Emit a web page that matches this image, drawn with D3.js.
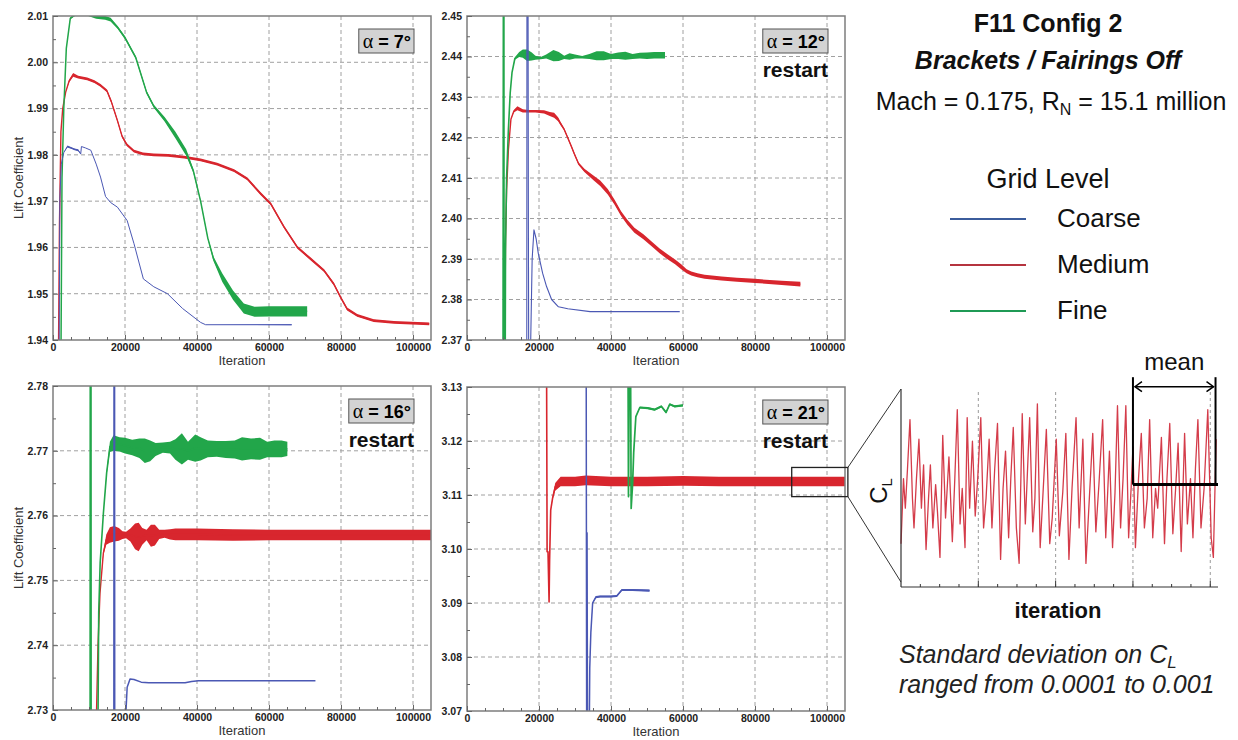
<!DOCTYPE html>
<html><head><meta charset="utf-8">
<script src="https://cdn.jsdelivr.net/npm/d3@7"></script>
<style>
body{margin:0;background:#fff}
svg{display:block;font-family:"Liberation Sans",Arial,sans-serif}
</style></head>
<body><svg id="c" width="1238" height="740"></svg>
<script>
// ---------------- DATA ----------------
const iterMajor = [0, 20000, 40000, 60000, 80000, 100000];
const ticksA7  = [1.94, 1.95, 1.96, 1.97, 1.98, 1.99, 2.00, 2.01];
const ticksA12 = [2.37, 2.38, 2.39, 2.40, 2.41, 2.42, 2.43, 2.44, 2.45];
const ticksA16 = [2.73, 2.74, 2.75, 2.76, 2.77, 2.78];
const ticksA21 = [3.07, 3.08, 3.09, 3.10, 3.11, 3.12, 3.13];
const alphaLabels = ["7°", "12°", "16°", "21°"];
const gridLevels = ["Coarse", "Medium", "Fine"];

// [iteration, lift coefficient, half-width of oscillation band]
const coarse7 = [[0,1.930,0],[1700,1.935,0],[1900,1.9705,0],[2300,1.978,0],[3000,1.9805,0],[4000,1.9818,0.0002],[5000,1.9815,0.0002],[6000,1.9812,0.0002],[7000,1.981,0.0002],[7700,1.9802,0.0001],[7900,1.9818,0],[9000,1.9815,0],[10500,1.981,0],[12000,1.978,0],[13200,1.9752,0],[14600,1.971,0],[16000,1.9697,0],[17900,1.9687,0],[20600,1.9658,0],[22500,1.9608,0],[25100,1.9532,0],[28000,1.9515,0],[31800,1.950,0],[36000,1.9468,0],[41000,1.9438,0],[42400,1.9433,0],[66300,1.9433,0.0001]];
const medium7 = [[0,1.930,0],[1500,1.935,0],[1800,1.965,0],[2200,1.985,0],[2700,1.990,0],[3500,1.9935,0],[4500,1.996,0.0003],[5600,1.9973,0.0004],[7000,1.9968,0.0003],[9500,1.9964,0.0003],[11500,1.9958,0.0003],[13200,1.995,0.0003],[15000,1.9938,0.0003],[16200,1.9915,0.0003],[17900,1.9874,0.0003],[19200,1.984,0.0003],[20500,1.9822,0.0003],[22500,1.9808,0.0003],[25000,1.9802,0.0003],[28000,1.980,0.0003],[32000,1.9799,0.0003],[36400,1.9795,0.0003],[41000,1.9789,0.0003],[45600,1.978,0.0003],[50300,1.9766,0.0003],[54000,1.9748,0.0003],[57700,1.9716,0.0003],[60500,1.9694,0.0003],[64200,1.9644,0.0003],[67900,1.960,0.0003],[71600,1.9575,0.0003],[75300,1.955,0.0003],[78000,1.9521,0.0003],[79900,1.9492,0.0003],[81700,1.9467,0.0003],[84500,1.9453,0.0003],[89100,1.9442,0.0003],[94700,1.9438,0.0003],[104500,1.9435,0.0003]];
const fine7 = [[0,1.930,0],[2200,1.935,0],[2500,1.975,0],[3000,1.990,0],[3700,2.003,0],[4800,2.0095,0.0002],[6500,2.0105,0.0003],[9000,2.0105,0.0003],[12000,2.0098,0.0004],[14500,2.0096,0.0004],[16000,2.0092,0.0004],[18000,2.0075,0.0003],[20000,2.0053,0.0003],[23000,2.001,0.0003],[26000,1.9935,0.0003],[28000,1.9905,0.0003],[31000,1.9877,0.0005],[34000,1.9843,0.0007],[37000,1.9805,0.0007],[39000,1.9765,0.0004],[41000,1.970,0.0002],[43000,1.962,0.0002],[44600,1.9575,0.0005],[47000,1.9535,0.0009],[50000,1.9497,0.0010],[53000,1.9468,0.0011],[56000,1.9461,0.0011],[60000,1.9462,0.0011],[65000,1.9462,0.0011],[70600,1.9462,0.0011]];

const coarse12 = [[16600,2.36,0],[16650,2.46,0],[16950,2.46,0],[17050,2.40,0],[17150,2.36,0],[17500,2.36,0],[17700,2.370,0],[18100,2.390,0],[18600,2.3972,0],[19200,2.395,0],[19800,2.3914,0],[21000,2.3865,0],[22100,2.3832,0],[23500,2.380,0],[25400,2.3782,0],[28000,2.3777,0],[34200,2.377,0],[59100,2.377,0]];
const medium12 = [[10300,2.36,0],[10500,2.37,0],[10700,2.395,0],[11000,2.407,0],[11500,2.417,0],[12200,2.4245,0],[13000,2.4265,0.0003],[14000,2.4272,0.0005],[15500,2.4266,0.0004],[17000,2.4265,0.0003],[19000,2.4265,0.0003],[21400,2.4263,0.0004],[23000,2.4258,0.0005],[24200,2.4255,0.0006],[25300,2.4245,0.0005],[26000,2.4234,0.0004],[27000,2.422,0.0003],[27900,2.4201,0.0003],[29000,2.4178,0.0003],[29800,2.416,0.0003],[31000,2.4135,0.0003],[32600,2.4119,0.0004],[35300,2.4099,0.0006],[37000,2.4087,0.0007],[39100,2.4066,0.0007],[41000,2.404,0.0006],[42800,2.4012,0.0006],[44600,2.399,0.0006],[46500,2.3971,0.0006],[49000,2.3955,0.0006],[51200,2.3938,0.0006],[53500,2.392,0.0006],[55800,2.3905,0.0006],[57800,2.3893,0.0006],[59500,2.3881,0.0006],[61000,2.387,0.0005],[62300,2.3864,0.0005],[64000,2.386,0.0005],[66000,2.3856,0.0005],[70700,2.3852,0.0005],[75000,2.3849,0.0005],[80000,2.3846,0.0005],[87400,2.3841,0.0005],[92600,2.3838,0.0006]];
const fine12 = [[10000,2.36,0],[10100,2.46,0],[10250,2.46,0],[10300,2.36,0],[10600,2.36,0],[10700,2.392,0],[11000,2.410,0],[11500,2.422,0],[12000,2.431,0],[12500,2.436,0],[13300,2.4395,0.0003],[14500,2.4405,0.0006],[15500,2.4407,0.0010],[16700,2.4403,0.0014],[18000,2.440,0.0010],[19000,2.4397,0.0005],[20500,2.4396,0.0003],[22000,2.440,0.0005],[24000,2.4402,0.0014],[25500,2.440,0.0011],[27000,2.4398,0.0004],[28500,2.440,0.0008],[30000,2.440,0.0005],[32000,2.4398,0.0003],[34000,2.440,0.0006],[36000,2.4402,0.0011],[38000,2.4402,0.0011],[40000,2.440,0.0006],[42000,2.4402,0.0008],[44000,2.4402,0.0010],[46000,2.440,0.0006],[48000,2.4402,0.0007],[50000,2.4402,0.0008],[52000,2.4403,0.0008],[55000,2.4403,0.0008]];

const coarse16 = [[16900,2.72,0],[16950,2.79,0],[17100,2.79,0],[17150,2.72,0],[19900,2.72,0],[20200,2.729,0],[20600,2.7335,0],[21400,2.7348,0],[22500,2.7347,0],[24500,2.7343,0],[26600,2.7342,0],[30000,2.7342,0],[36700,2.7342,0],[38500,2.7344,0],[40400,2.7345,0],[50000,2.7345,0],[60000,2.7345,0],[72900,2.7345,0]];
const medium16 = [[11800,2.72,0],[12100,2.73,0],[12500,2.740,0],[13050,2.748,0],[13980,2.7542,0.0003],[14800,2.7563,0.0008],[15800,2.757,0.0012],[17000,2.7572,0.0012],[18300,2.7571,0.0010],[19300,2.757,0.0006],[20300,2.757,0.0005],[21500,2.757,0.0010],[22800,2.7568,0.0020],[23800,2.7567,0.0022],[24800,2.7568,0.0013],[26000,2.757,0.0008],[27200,2.7569,0.0017],[28300,2.757,0.0016],[29500,2.7571,0.0007],[31000,2.7572,0.0006],[32500,2.7571,0.0008],[34000,2.7571,0.0009],[40000,2.7571,0.0009],[50000,2.757,0.0009],[60000,2.757,0.0008],[70000,2.757,0.0008],[80000,2.757,0.0008],[90000,2.757,0.0008],[100000,2.757,0.0008],[105500,2.757,0.0008]];
const fine16 = [[10300,2.72,0],[10350,2.79,0],[10550,2.79,0],[10600,2.72,0],[12400,2.72,0],[12700,2.745,0],[13100,2.7527,0],[14000,2.7604,0],[14900,2.7666,0.0003],[15800,2.7706,0.0008],[16800,2.7712,0.0012],[18500,2.771,0.0011],[20000,2.7708,0.0012],[22000,2.7705,0.0012],[24000,2.7704,0.0015],[25500,2.770,0.0019],[27000,2.770,0.0016],[28500,2.7702,0.0010],[30500,2.7705,0.0008],[32500,2.7705,0.0009],[34000,2.7702,0.0016],[35800,2.7703,0.0024],[37500,2.770,0.0014],[39500,2.7704,0.0021],[41000,2.7703,0.0018],[43000,2.7703,0.0013],[45500,2.7703,0.0012],[48000,2.7702,0.0013],[50500,2.7702,0.0014],[52500,2.7703,0.0018],[55000,2.7703,0.0016],[57500,2.7703,0.0017],[59500,2.7702,0.0012],[61500,2.7703,0.0013],[63500,2.7703,0.0013],[65100,2.7703,0.0011]];

const coarse21 = [[33100,3.14,0],[33250,3.06,0],[33350,3.103,0],[33500,3.06,0],[33900,3.06,0],[34100,3.078,0],[34400,3.0845,0.0002],[34900,3.090,0.0002],[35800,3.0911,0.0002],[37000,3.0912,0.0002],[40000,3.0912,0.0002],[41600,3.0913,0.0002],[43000,3.0924,0.0002],[46000,3.0924,0.0002],[50700,3.0923,0.0002]];
const medium21 = [[22000,3.14,0],[22100,3.135,0],[22250,3.0995,0],[22500,3.0995,0],[22800,3.0902,0],[22950,3.098,0],[23250,3.1072,0],[23800,3.1095,0.0003],[24500,3.1115,0.0007],[26000,3.1125,0.0009],[30000,3.1125,0.0009],[33000,3.1127,0.0009],[40000,3.1125,0.0009],[50000,3.1125,0.0009],[60000,3.1126,0.0009],[70000,3.1125,0.0009],[80000,3.1125,0.0009],[90000,3.1125,0.0009],[100000,3.1125,0.0009],[105500,3.1125,0.0009]];
const fine21 = [[44700,3.14,0],[44850,3.1097,0],[45000,3.125,0],[45200,3.14,0],[45400,3.14,0],[45600,3.1075,0],[46000,3.112,0],[46300,3.1178,0],[46900,3.1245,0.0001],[48000,3.1262,0.0002],[50200,3.1261,0.0002],[52100,3.1258,0.0002],[54000,3.1264,0.0002],[55300,3.1253,0.0002],[56300,3.1268,0.0002],[57700,3.1264,0.0002],[60000,3.1266,0.0002]];

// zoom window on the alpha = 21 medium curve: [iter0, iter1, cl0, cl1]
const zoomWindow = [90200, 105800, 3.1097, 3.1151];

// inset (relative iteration, relative C_L)
const insetIter = [0,0.8,1.4,2.1,2.9,3.7,4.2,5.0,5.8,6.6,7.3,8.1,8.9,9.5,10.3,11.2,11.8,12.6,13.5,14.4,15.5,16.6,17.4,18.2,19.1,19.8,20.7,21.4,22.2,23.1,24.0,24.8,25.8,26.7,27.5,28.5,29.4,30.3,31.2,32.2,33.0,33.8,34.8,35.5,36.3,37.3,38.2,39.2,40.2,41.6,42.6,43.3,44.1,45.0,46.0,47.0,48.1,48.9,50.2,51.2,52.3,53.3,54.3,55.3,56.6,57.6,58.8,59.8,60.9,62.0,63.0,64.0,65.2,66.2,67.4,68.4,69.2,70.0,71.0,71.8,72.7,73.6,74.4,75.0,75.8,76.8,77.7,78.7,79.6,80.4,81.4,82.3,83.0,84.2,85.2,86.0,86.9,87.9,88.8,89.6,90.6,91.7,92.6,93.6,94.4,95.2,96.0,97.0,98.0,99.2,100.3,101.0,101.9];
const insetCL = [0.22,0.55,0.40,0.60,0.85,0.45,0.30,0.55,0.75,0.40,0.62,0.19,0.45,0.62,0.30,0.52,0.38,0.15,0.77,0.35,0.66,0.23,0.55,0.90,0.32,0.50,0.20,0.86,0.40,0.74,0.36,0.55,0.86,0.30,0.45,0.75,0.30,0.60,0.83,0.14,0.50,0.69,0.25,0.55,0.81,0.30,0.12,0.88,0.32,0.86,0.28,0.45,0.93,0.20,0.50,0.80,0.22,0.35,0.75,0.26,0.48,0.78,0.14,0.50,0.86,0.30,0.75,0.12,0.45,0.78,0.28,0.52,0.85,0.25,0.69,0.20,0.48,0.92,0.30,0.55,0.92,0.25,0.50,0.71,0.20,0.55,0.78,0.30,0.45,0.85,0.25,0.50,0.40,0.76,0.22,0.55,0.83,0.27,0.50,0.73,0.18,0.78,0.32,0.55,0.25,0.60,0.85,0.30,0.50,0.90,0.25,0.15,0.75];
const insetTicks = [25, 50, 75, 100];
const meanWindow = [75, 101.7];
const meanLevel = 0.52;

// ---------------- DRAW ----------------
const svg = d3.select("#c");
const FONT = '"Liberation Sans", Arial, sans-serif';
const colors = {Coarse:"#4b58b4", Medium:"#d8262e", Fine:"#22a64a"};
const legendColors = {Coarse:"#3b5c9c", Medium:"#b5343f", Fine:"#1f9a55"};

const panels = [
  {key:"a7",  left:53,  right:431, top:16,  bottom:340, ticks:ticksA7,  alpha:alphaLabels[0], restart:false, ytitle:true,
   series:[{n:"Medium",d:medium7,w:1.4},{n:"Fine",d:fine7,w:1.5},{n:"Coarse",d:coarse7,w:1}]},
  {key:"a12", left:467, right:845, top:16,  bottom:340, ticks:ticksA12, alpha:alphaLabels[1], restart:true, ytitle:false,
   series:[{n:"Medium",d:medium12,w:1.4},{n:"Fine",d:fine12,w:1.6},{n:"Coarse",d:coarse12,w:1.1}]},
  {key:"a16", left:53,  right:431, top:386, bottom:710, ticks:ticksA16, alpha:alphaLabels[2], restart:true, ytitle:true,
   series:[{n:"Medium",d:medium16,w:1.4},{n:"Fine",d:fine16,w:1.6},{n:"Coarse",d:coarse16,w:1.5}]},
  {key:"a21", left:467, right:845, top:387, bottom:711, ticks:ticksA21, alpha:alphaLabels[3], restart:true, ytitle:false,
   series:[{n:"Medium",d:medium21,w:1.6},{n:"Fine",d:fine21,w:1.7},{n:"Coarse",d:coarse21,w:1.5}]}
];

const defs = svg.append("defs");
const scales = {};

panels.forEach(p => {
  const g = svg.append("g");
  const x = d3.scaleLinear([0, 105000], [p.left, p.right]);
  const y = d3.scaleLinear([p.ticks[0], p.ticks[p.ticks.length-1]], [p.bottom, p.top]);
  scales[p.key] = {x, y};
  defs.append("clipPath").attr("id", "clip-"+p.key).append("rect")
    .attr("x", p.left).attr("y", p.top).attr("width", p.right-p.left).attr("height", p.bottom-p.top);

  // grid
  g.append("g").selectAll("line").data(iterMajor.filter(d => d > 0)).join("line")
    .attr("x1", d => x(d)).attr("x2", d => x(d)).attr("y1", p.top).attr("y2", p.bottom)
    .attr("stroke", "#a0a0a0").attr("stroke-width", 1).attr("stroke-dasharray", "4,3");
  g.append("g").selectAll("line").data(p.ticks.slice(1, -1)).join("line")
    .attr("y1", d => y(d)).attr("y2", d => y(d)).attr("x1", p.left).attr("x2", p.right)
    .attr("stroke", "#a0a0a0").attr("stroke-width", 1).attr("stroke-dasharray", "4,3");

  // series
  const sg = g.append("g").attr("clip-path", `url(#clip-${p.key})`);
  p.series.forEach(s => {
    sg.append("path").datum(s.d)
      .attr("d", d3.area().x(d => x(d[0])).y0(d => y(d[1]-d[2])).y1(d => y(d[1]+d[2])))
      .attr("fill", colors[s.n]);
    sg.append("path").datum(s.d)
      .attr("d", d3.line().x(d => x(d[0])).y(d => y(d[1])))
      .attr("fill", "none").attr("stroke", colors[s.n]).attr("stroke-width", s.w)
      .attr("stroke-linejoin", "round");
  });

  // frame
  g.append("rect").attr("x", p.left).attr("y", p.top).attr("width", p.right-p.left).attr("height", p.bottom-p.top)
    .attr("fill", "none").attr("stroke", "#7d7d7d").attr("stroke-width", 1.5);

  // axes
  const xa = g.append("g").attr("transform", `translate(0,${p.bottom})`)
    .call(d3.axisBottom(x).tickValues(iterMajor).tickSize(-5).tickPadding(4).tickFormat(d3.format("d")));
  const xm = g.append("g").attr("transform", `translate(0,${p.bottom})`)
    .call(d3.axisBottom(x).tickValues(d3.range(5000, 105000, 5000).filter(v => v % 20000)).tickSize(-3).tickFormat(""));
  const ya = g.append("g").attr("transform", `translate(${p.left},0)`)
    .call(d3.axisLeft(y).tickValues(p.ticks).tickSize(-5).tickPadding(5).tickFormat(d3.format(".2f")));
  const mids = p.ticks.slice(0, -1).map((t, i) => (t + p.ticks[i+1]) / 2);
  const ym = g.append("g").attr("transform", `translate(${p.left},0)`)
    .call(d3.axisLeft(y).tickValues(mids).tickSize(-3).tickFormat(""));
  [xa, xm, ya, ym].forEach(a => {
    a.select(".domain").remove();
    a.attr("font-family", FONT);
    a.selectAll("line").attr("stroke", "#666");
    a.selectAll("text").attr("font-size", 10.5).attr("font-weight", "bold").attr("fill", "#222");
  });

  // axis titles
  g.append("text").attr("x", (p.left+p.right)/2).attr("y", p.bottom+25).attr("text-anchor", "middle")
    .attr("font-size", 13).attr("fill", "#333").text("Iteration");
  if (p.ytitle) {
    g.append("text").attr("transform", `translate(23,${(p.top+p.bottom)/2}) rotate(-90)`)
      .attr("text-anchor", "middle").attr("font-size", 13).attr("fill", "#333").text("Lift Coefficient");
  }

  // alpha box
  const bx = p.right - 17, by = p.top + 13;
  const boxG = g.append("g");
  const boxRect = boxG.append("rect");
  const lbl = boxG.append("text").attr("y", by + 19).attr("text-anchor", "end").attr("x", bx - 3);
  lbl.append("tspan").attr("font-family", '"Liberation Serif", serif').attr("font-size", 20).text("α");
  lbl.append("tspan").attr("font-size", 18).attr("font-weight", "bold").text(" = " + p.alpha);
  const bw = lbl.node().getComputedTextLength();
  boxRect.attr("x", bx - bw - 7).attr("y", by).attr("width", bw + 7).attr("height", 24)
    .attr("fill", "#d3d3d3").attr("stroke", "#555").attr("stroke-width", 1);
  if (p.restart) {
    g.append("text").attr("x", bx).attr("y", p.top + 61).attr("text-anchor", "end")
      .attr("font-size", 21).attr("font-weight", "bold").attr("fill", "#111").text("restart");
  }
});

// zoom window rectangle in alpha=21 panel
const s21 = scales.a21;
const zx0 = s21.x(zoomWindow[0]), zx1 = s21.x(zoomWindow[1]);
const zy0 = s21.y(zoomWindow[3]), zy1 = s21.y(zoomWindow[2]);
svg.append("rect").attr("x", zx0).attr("y", zy0).attr("width", zx1-zx0).attr("height", zy1-zy0)
  .attr("fill", "none").attr("stroke", "#222").attr("stroke-width", 1.3);

// inset
const ix = d3.scaleLinear([0, 102.5], [901, 1218]);
const iy = d3.scaleLinear([0, 1], [587, 390]);
const ins = svg.append("g");
ins.append("line").attr("x1", zx1).attr("y1", zy0).attr("x2", ix(0)).attr("y2", iy(1.005)).attr("stroke", "#333").attr("stroke-width", 1);
ins.append("line").attr("x1", zx1).attr("y1", zy1).attr("x2", ix(0)).attr("y2", iy(0.025)).attr("stroke", "#333").attr("stroke-width", 1);
ins.selectAll(".ig").data(insetTicks).join("line").attr("class", "ig")
  .attr("x1", d => ix(d)).attr("x2", d => ix(d)).attr("y1", iy(0)).attr("y2", iy(1))
  .attr("stroke", "#9a9a9a").attr("stroke-dasharray", "3,3");
ins.append("path").datum(insetIter)
  .attr("d", d3.line().x(d => ix(d)).y((d, i) => iy(insetCL[i])))
  .attr("fill", "none").attr("stroke", "#d43c4a").attr("stroke-width", 1.3).attr("stroke-linejoin", "round");
ins.append("line").attr("x1", ix(0)).attr("x2", ix(0)).attr("y1", iy(1.005)).attr("y2", iy(0)).attr("stroke", "#333").attr("stroke-width", 1.2);
ins.append("line").attr("x1", ix(0)).attr("x2", ix(102.5)).attr("y1", iy(0)).attr("y2", iy(0)).attr("stroke", "#333").attr("stroke-width", 1.2);
ins.selectAll(".it").data(d3.range(6.25, 102.5, 6.25)).join("line").attr("class", "it")
  .attr("x1", d => ix(d)).attr("x2", d => ix(d)).attr("y1", iy(0))
  .attr("y2", d => iy(0) - (d % 25 === 0 ? 6 : 3)).attr("stroke", "#333");

// mean bracket
const mx0 = ix(meanWindow[0]), mx1 = ix(meanWindow[1]);
ins.append("line").attr("x1", mx0).attr("x2", mx0).attr("y1", iy(1.065)).attr("y2", iy(meanLevel)).attr("stroke", "#000").attr("stroke-width", 2);
ins.append("line").attr("x1", mx1).attr("x2", mx1).attr("y1", iy(1.065)).attr("y2", iy(meanLevel)).attr("stroke", "#000").attr("stroke-width", 2);
ins.append("line").attr("x1", mx0).attr("x2", ix(102.5)).attr("y1", iy(meanLevel)).attr("y2", iy(meanLevel)).attr("stroke", "#000").attr("stroke-width", 3);
const ay = iy(1.017);
ins.append("line").attr("x1", mx0+2).attr("x2", mx1-2).attr("y1", ay).attr("y2", ay).attr("stroke", "#000").attr("stroke-width", 1.5);
ins.append("path").attr("d", `M${mx0+9},${ay-5}L${mx0+2},${ay}L${mx0+9},${ay+5}M${mx1-9},${ay-5}L${mx1-2},${ay}L${mx1-9},${ay+5}`)
  .attr("fill", "none").attr("stroke", "#000").attr("stroke-width", 1.5);
ins.append("text").attr("x", (mx0+mx1)/2).attr("y", 370).attr("text-anchor", "middle").attr("font-size", 24).attr("fill", "#111").text("mean");
const cl = ins.append("text").attr("transform", "translate(887,491) rotate(-90)").attr("text-anchor", "middle").attr("font-size", 24).attr("fill", "#111");
cl.append("tspan").text("C");
cl.append("tspan").attr("font-size", 15).attr("dy", 5).text("L");
ins.append("text").attr("x", 1058).attr("y", 618).attr("text-anchor", "middle").attr("font-size", 22).attr("font-weight", "bold").attr("fill", "#111").text("iteration");
const sd = ins.append("text").attr("x", 899).attr("y", 663).attr("font-size", 25).attr("font-style", "italic").attr("fill", "#222");
sd.append("tspan").text("Standard deviation on C");
sd.append("tspan").attr("font-size", 17).attr("dy", 5).text("L");
ins.append("text").attr("x", 899).attr("y", 693).attr("font-size", 25).attr("font-style", "italic").attr("fill", "#222").text("ranged from 0.0001 to 0.001");

// titles and legend
const T = svg.append("g").attr("fill", "#111");
T.append("text").attr("x", 1048).attr("y", 32).attr("text-anchor", "middle").attr("font-size", 25).attr("font-weight", "bold").text("F11 Config 2");
T.append("text").attr("x", 1048).attr("y", 69).attr("text-anchor", "middle").attr("font-size", 25).attr("font-weight", "bold").attr("font-style", "italic").text("Brackets / Fairings Off");
const mach = T.append("text").attr("x", 1051).attr("y", 110).attr("text-anchor", "middle").attr("font-size", 25);
mach.append("tspan").text("Mach = 0.175, R");
mach.append("tspan").attr("font-size", 16).attr("dy", 5).text("N");
mach.append("tspan").attr("dy", -5).text(" = 15.1 million");
T.append("text").attr("x", 1048).attr("y", 188).attr("text-anchor", "middle").attr("font-size", 27).text("Grid Level");
const legY = [219, 265, 311];
gridLevels.forEach((n, i) => {
  T.append("line").attr("x1", 950).attr("x2", 1026).attr("y1", legY[i]).attr("y2", legY[i])
    .attr("stroke", legendColors[n]).attr("stroke-width", 2);
  T.append("text").attr("x", 1057).attr("y", legY[i] + 8).attr("font-size", 26).text(n);
});
</script>
</body></html>
